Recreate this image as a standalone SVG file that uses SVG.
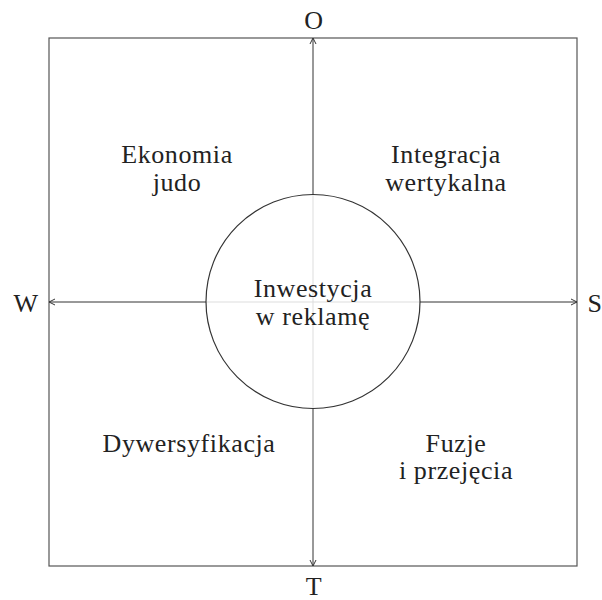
<svg xmlns="http://www.w3.org/2000/svg" width="602" height="600" viewBox="0 0 602 600">
  <style>
    .frame { fill: none; stroke: #555; stroke-width: 1.2; }
    .axis { fill: none; stroke: #333; stroke-width: 1; }
    .guide { fill: none; stroke: #ddd; stroke-width: 1; }
    .ring { fill: none; stroke: #333; stroke-width: 1.2; }
    text { font-family: "Liberation Serif", "DejaVu Serif", serif; font-size: 26px; letter-spacing: 0.6px; fill: #222; text-anchor: middle; }
  </style>
  <defs>
    <marker id="tip" viewBox="0 0 8 8" refX="7" refY="4" markerWidth="8" markerHeight="8" markerUnits="userSpaceOnUse" orient="auto">
      <path d="M1,1 L7,4 L1,7" fill="none" stroke="#333" stroke-width="1"/>
    </marker>
  </defs>

  <rect id="frame" class="frame" x="49" y="38" width="528" height="528"/>

  <g id="connectors">
    <line class="guide" x1="313" y1="195" x2="313" y2="408"/>
    <line class="guide" x1="206" y1="302" x2="420" y2="302"/>
    <line class="axis" x1="313" y1="195" x2="313" y2="38" marker-end="url(#tip)"/>
    <line class="axis" x1="313" y1="408" x2="313" y2="566" marker-end="url(#tip)"/>
    <line class="axis" x1="206" y1="302" x2="49" y2="302" marker-end="url(#tip)"/>
    <line class="axis" x1="420" y1="302" x2="577" y2="302" marker-end="url(#tip)"/>
  </g>

  <g id="center">
    <circle class="ring" cx="313" cy="301.5" r="107"/>
    <text x="313" y="297">Inwestycja</text>
    <text x="313" y="325">w reklamę</text>
  </g>

  <g id="q-top-left">
    <text x="177" y="163">Ekonomia</text>
    <text x="177" y="191">judo</text>
  </g>
  <g id="q-top-right">
    <text x="446" y="163">Integracja</text>
    <text x="446" y="191">wertykalna</text>
  </g>
  <g id="q-bottom-left">
    <text x="189" y="452">Dywersyfikacja</text>
  </g>
  <g id="q-bottom-right">
    <text x="456" y="452">Fuzje</text>
    <text x="456" y="479">i przejęcia</text>
  </g>

  <g id="label-o"><text x="314" y="29">O</text></g>
  <g id="label-t"><text x="314" y="595">T</text></g>
  <g id="label-w"><text x="26" y="312">W</text></g>
  <g id="label-s"><text x="595" y="312">S</text></g>
</svg>
